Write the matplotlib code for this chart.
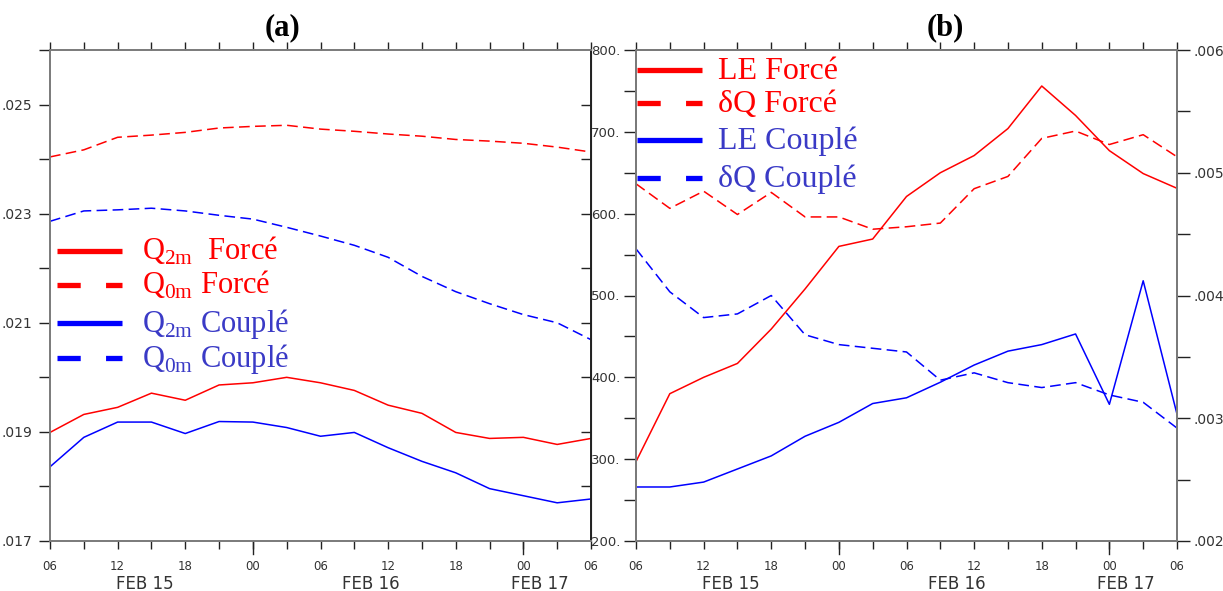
import matplotlib
matplotlib.use('Agg')
import matplotlib.pyplot as plt
from matplotlib.lines import Line2D
from matplotlib.ticker import MultipleLocator, FixedLocator, FuncFormatter
import matplotlib.transforms as mtransforms

plt.rcParams['mathtext.fontset'] = 'custom'
plt.rcParams['mathtext.rm'] = 'Liberation Serif'
plt.rcParams['font.family'] = ['DejaVu Sans']

# ---------------- data ----------------
hours = [0, 3, 6, 9, 12, 15, 18, 21, 24, 27, 30, 33, 36, 39, 42, 45, 48]
hour_ticks = [0, 6, 12, 18, 24, 30, 36, 42, 48]
hour_labels = ['06', '12', '18', '00', '06', '12', '18', '00', '06']
date_pos = [8.4, 28.5, 43.5]
date_labels = ['FEB 15', 'FEB 16', 'FEB 17']

# panel (a)
q2m_force = [0.01899, 0.01932, 0.01945, 0.01971, 0.01958, 0.01986, 0.01990, 0.02000, 0.01990,
             0.01976, 0.01949, 0.01934, 0.01899, 0.01888, 0.01890, 0.01877, 0.01888]
q0m_force = [0.02404, 0.02417, 0.02440, 0.02444, 0.02449, 0.02457, 0.02460, 0.02462, 0.02455,
             0.02451, 0.02446, 0.02442, 0.02436, 0.02433, 0.02429, 0.02422, 0.02413]
q2m_couple = [0.01836, 0.01890, 0.01918, 0.01918, 0.01897, 0.01919, 0.01918, 0.01908, 0.01892,
              0.01899, 0.01871, 0.01846, 0.01825, 0.01796, 0.01783, 0.01770, 0.01777]
q0m_couple = [0.02286, 0.02305, 0.02307, 0.02310, 0.02305, 0.02297, 0.02290, 0.02275, 0.02259,
              0.02242, 0.02220, 0.02185, 0.02157, 0.02135, 0.02115, 0.02100, 0.02069]

# panel (b)
le_force = [297, 380, 400, 417, 459, 508, 560, 569, 621, 650, 671, 704, 756, 720, 677, 649, 631]
dq_force = [0.00491, 0.00471, 0.00485, 0.00466, 0.00484, 0.00464, 0.00464, 0.00454, 0.00456,
            0.00459, 0.00487, 0.00497, 0.00528, 0.00534, 0.00523, 0.00531, 0.00513]
le_couple = [266, 266, 272, 288, 304, 328, 345, 368, 375, 394, 415, 432, 440, 453, 367, 518, 355]
dq_couple = [0.00438, 0.00403, 0.00382, 0.00385, 0.00400, 0.00368, 0.00360, 0.00357, 0.00354,
             0.00331, 0.00337, 0.00329, 0.00325, 0.00329, 0.00319, 0.00313, 0.00292]

legend_a = [r'Q$_{\mathrm{2m}}$  Forcé', r'Q$_{\mathrm{0m}}$ Forcé',
            r'Q$_{\mathrm{2m}}$ Couplé', r'Q$_{\mathrm{0m}}$ Couplé']
legend_b = ['LE Forcé', 'δQ Forcé', 'LE Couplé', 'δQ Couplé']

# ---------------- style ----------------
RED = '#ff0000'
BLUE = '#0000ff'
RED_TXT = '#ff0000'
BLUE_TXT = '#3a3ac6'
SPINE = '#7a7a7a'
TICKC = '#222222'
DASH = (0, (7, 3.5))

W, H = 1223, 591
fig = plt.figure(figsize=(W / 100, H / 100), dpi=100)
fig.patch.set_facecolor('white')

axa = fig.add_axes([50 / W, 50 / H, 541 / W, 491 / H])
axb = fig.add_axes([636 / W, 50 / H, 541 / W, 491 / H])
axb2 = axb.twinx()


def short(v, p):
    return f'{v:.3f}'.lstrip('0')


def style_x(ax):
    ax.set_xlim(0, 48)
    ax.set_xticks(hour_ticks)
    ax.set_xticklabels(hour_labels)
    ax.xaxis.set_minor_locator(MultipleLocator(3))
    ax.tick_params(axis='x', which='both', top=True, bottom=True, direction='out',
                   length=6, width=1, color=TICKC, labelsize=8.5, labelcolor='#333333', pad=8)
    trans = mtransforms.blended_transform_factory(ax.transData, ax.transAxes)
    for h in (18, 42):
        ax.add_artist(Line2D([h, h], [0, -0.026], transform=trans, color=TICKC,
                             lw=1, clip_on=False))
    for p, lab in zip(date_pos, date_labels):
        ax.text(p, -0.088, lab, transform=trans, ha='center', va='center',
                fontsize=12, color='#333333')
    for s in ax.spines.values():
        s.set_color(SPINE)
        s.set_linewidth(1.4)


# panel (a)
axa.plot(hours, q2m_force, color=RED, lw=1.1)
axa.plot(hours, q0m_force, color=RED, lw=1.1, ls=DASH)
axa.plot(hours, q2m_couple, color=BLUE, lw=1.1)
axa.plot(hours, q0m_couple, color=BLUE, lw=1.1, ls=DASH)
axa.set_ylim(0.017, 0.026)
axa.yaxis.set_major_locator(FixedLocator([0.017, 0.019, 0.021, 0.023, 0.025]))
axa.yaxis.set_minor_locator(FixedLocator([0.018, 0.020, 0.022, 0.024, 0.026]))
axa.yaxis.set_major_formatter(FuncFormatter(short))
axa.tick_params(axis='y', which='both', left=True, right=False, direction='out', length=8,
                width=1, color=TICKC, labelsize=10, labelcolor='#333333', pad=5)
axa_r = axa.secondary_yaxis('right')
axa_r.set_yticks([0.018, 0.019, 0.020, 0.021, 0.022, 0.023, 0.024, 0.025])
axa_r.tick_params(direction='in', length=7, width=1, color=TICKC, labelright=False)
axa_r.spines['right'].set_color('#222222')
style_x(axa)
axa.spines['right'].set_color('#222222')

# panel (b)
axb.plot(hours, le_force, color=RED, lw=1.1)
axb2.plot(hours, dq_force, color=RED, lw=1.1, ls=DASH)
axb.plot(hours, le_couple, color=BLUE, lw=1.1)
axb2.plot(hours, dq_couple, color=BLUE, lw=1.1, ls=DASH)
axb.set_ylim(200, 800)
axb.yaxis.set_major_locator(MultipleLocator(100))
axb.yaxis.set_minor_locator(MultipleLocator(50))
axb.yaxis.set_major_formatter(FuncFormatter(lambda v, p: f'{v:.0f}.'))
axb.tick_params(axis='y', which='both', left=True, right=False, direction='out', length=9,
                width=1, color=TICKC, labelsize=9.5, labelcolor='#333333', pad=2)
axb2.set_ylim(0.002, 0.006)
axb2.yaxis.set_major_locator(MultipleLocator(0.001))
axb2.yaxis.set_minor_locator(MultipleLocator(0.0005))
axb2.yaxis.set_major_formatter(FuncFormatter(short))
axb2.tick_params(axis='y', which='both', right=True, direction='out', length=9,
                 width=1, color=TICKC, labelsize=10, labelcolor='#333333', pad=3)
style_x(axb)
for s in axb2.spines.values():
    s.set_color(SPINE)
    s.set_linewidth(1.4)


# ---------------- legends (drawn in figure pixels) ----------------
def fx(x):
    return x / W


def fy(y):
    return 1 - y / H


def draw_legend(x0, x1, xt, ys, labels, styles, size):
    for y, lab, (col, tcol, ls) in zip(ys, labels, styles):
        fig.add_artist(Line2D([fx(x0), fx(x1)], [fy(y), fy(y)], transform=fig.transFigure,
                              color=col, lw=3.8, ls=ls, solid_capstyle='butt',
                              dash_capstyle='butt'))
        fig.text(fx(xt), fy(y + 9), lab, ha='left', va='baseline', fontsize=size,
                 family='Liberation Serif', color=tcol)


styles = [(RED, RED_TXT, '-'), (RED, RED_TXT, (0, (4.4, 4.8))),
          (BLUE, BLUE_TXT, '-'), (BLUE, BLUE_TXT, (0, (4.4, 4.8)))]
draw_legend(57, 122, 142, [251, 285, 323, 358], legend_a, styles, 22)
draw_legend(637, 702, 718, [70, 103, 140, 178], legend_b, styles, 23)

fig.text(fx(283), fy(28), '(a)', ha='center', va='center', fontsize=22,
         family='Liberation Serif', fontweight='bold')
fig.text(fx(945), fy(28), '(b)', ha='center', va='center', fontsize=22,
         family='Liberation Serif', fontweight='bold')

fig.savefig('out.png', dpi=100, facecolor='white')
